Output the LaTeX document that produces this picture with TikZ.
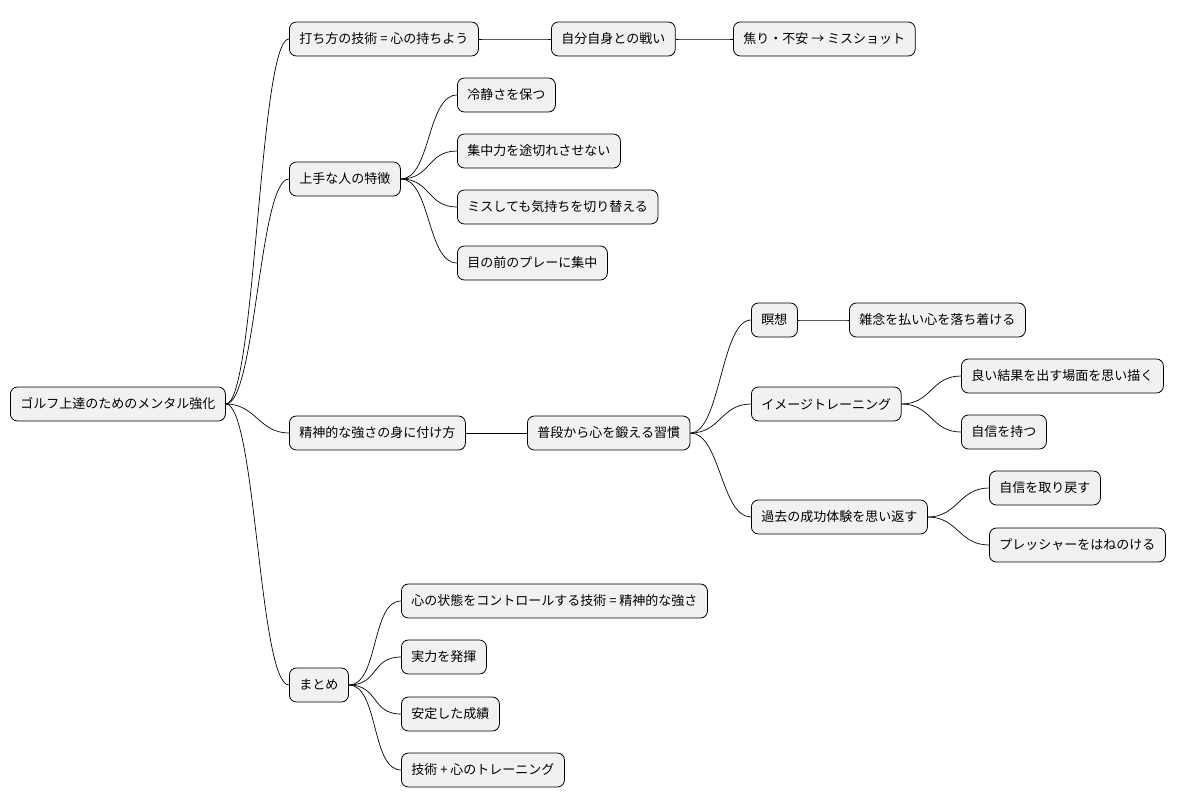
\documentclass[tikz,border=0pt]{standalone}
\usepackage{fontspec}
\newfontfamily\cjk{Noto Sans CJK JP}
\usetikzlibrary{positioning}
\definecolor{nodefill}{RGB}{241,241,241}

\begin{document}
\begin{tikzpicture}[x=1pt, y=-1pt,
    topic/.style={rectangle, rounded corners=7pt, draw, thick, fill=nodefill, anchor=west,
                  minimum height=34pt, inner xsep=10pt, font=\cjk\fontsize{13}{15}\selectfont},
    branch/.style={draw, line width=0.7pt}]
    \useasboundingbox (0,0) rectangle (1188,809);

    % Root and first level
    \node[topic] (root) at (10, 404) {ゴルフ上達のためのメンタル強化};
    \node[topic] (tech) at (289, 39) {打ち方の技術 = 心の持ちよう};
    \node[topic] (good) at (289, 179) {上手な人の特徴};
    \node[topic] (mind) at (289, 433) {精神的な強さの身に付け方};
    \node[topic] (summ) at (289, 685) {まとめ};

    % Technique branch
    \node[topic] (self) at (551, 39) {自分自身との戦い};
    \node[topic] (miss) at (733, 39) {焦り・不安 → ミスショット};

    % Good players
    \node[topic] (calm) at (457, 95) {冷静さを保つ};
    \node[topic] (focus) at (457, 151) {集中力を途切れさせない};
    \node[topic] (switch) at (457, 207) {ミスしても気持ちを切り替える};
    \node[topic] (play) at (457, 263) {目の前のプレーに集中};

    % Mental strength
    \node[topic] (habit) at (527, 433) {普段から心を鍛える習慣};
    \node[topic] (medi) at (751, 320) {瞑想};
    \node[topic] (clear) at (849, 320) {雑念を払い心を落ち着ける};
    \node[topic] (image) at (751, 404) {イメージトレーニング};
    \node[topic] (scene) at (961, 376) {良い結果を出す場面を思い描く};
    \node[topic] (conf) at (961, 432) {自信を持つ};
    \node[topic] (past) at (751, 517) {過去の成功体験を思い返す};
    \node[topic] (back) at (989, 488) {自信を取り戻す};
    \node[topic] (press) at (989, 545) {プレッシャーをはねのける};

    % Summary
    \node[topic] (ctrl) at (401, 601) {心の状態をコントロールする技術 = 精神的な強さ};
    \node[topic] (real) at (401, 657) {実力を発揮};
    \node[topic] (stab) at (401, 714) {安定した成績};
    \node[topic] (train) at (401, 770) {技術 + 心のトレーニング};

    % Connectors
    \foreach \a/\b in {root/tech, root/good, root/mind, root/summ,
                       tech/self, self/miss,
                       good/calm, good/focus, good/switch, good/play,
                       mind/habit, habit/medi, habit/image, habit/past,
                       medi/clear, image/scene, image/conf, past/back, past/press,
                       summ/ctrl, summ/real, summ/stab, summ/train}
        \draw[branch] (\a.east) .. controls +(30,0) and +(-30,0) .. (\b.west);
\end{tikzpicture}
\end{document}
